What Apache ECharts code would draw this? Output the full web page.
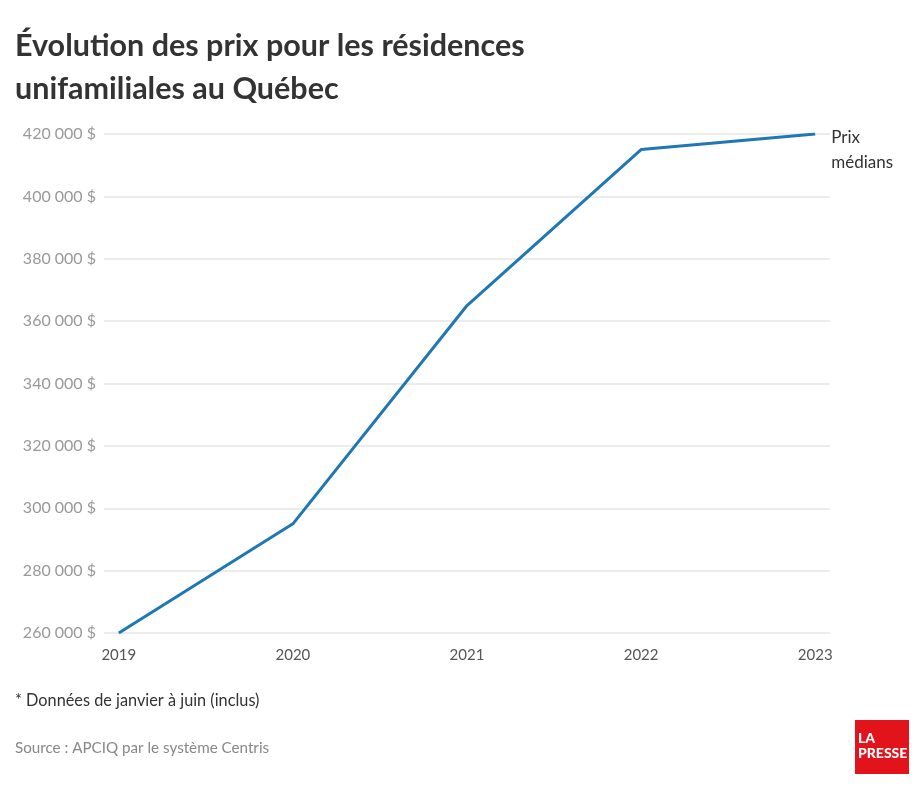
<!DOCTYPE html>
<html><head><meta charset="utf-8">
<script src="https://cdn.jsdelivr.net/npm/echarts@6/dist/echarts.min.js"></script>
<style>html,body{margin:0;padding:0;background:#fff}#c{width:924px;height:795px}</style>
</head><body><div id="c"></div>
<script>
const years = [2019, 2020, 2021, 2022, 2023];
const prices = [260000, 295000, 365000, 415000, 420000];
const seriesName = 'Prix\nmédians';
const titleText = 'Évolution des prix pour les résidences\nunifamiliales au Québec';
const noteText = '* Données de janvier à juin (inclus)';
const sourceText = 'Source : APCIQ par le système Centris';

const fmt = v => String(v).replace(/\B(?=(\d{3})+(?!\d))/g, ' ') + ' $';
const chart = echarts.init(document.getElementById('c'));
chart.setOption({
  animation: false,
  textStyle: {fontFamily: 'Lato'},
  title: {
    text: titleText, left: 10, top: 20,
    textStyle: {fontFamily: 'Lato', fontWeight: 'bold', fontSize: 30.5, color: '#333', lineHeight: 43}
  },
  grid: {left: 104, right: 94, top: 134, bottom: 162, containLabel: false},
  xAxis: {
    type: 'value', min: 2018.915, max: 2023.085,
    axisLine: {show: false}, axisTick: {show: false}, splitLine: {show: false},
    axisLabel: {customValues: years, formatter: v => String(v), color: '#555', fontSize: 15, margin: 15, fontFamily: 'Lato'}
  },
  yAxis: {
    type: 'value', min: 260000, max: 420000, interval: 20000,
    axisLine: {show: false}, axisTick: {show: false},
    splitLine: {lineStyle: {color: '#e6e6e6', width: 1.5}},
    axisLabel: {formatter: fmt, color: '#999', fontSize: 16, margin: 8, fontFamily: 'Lato'}
  },
  series: [{
    type: 'line', name: seriesName,
    data: years.map((y, i) => [y, prices[i]]),
    showSymbol: false, symbol: 'none',
    lineStyle: {color: '#1f78b4', width: 3},
    endLabel: {show: true, formatter: seriesName, color: '#333', fontSize: 17, lineHeight: 25,
      fontFamily: 'Lato', distance: 16, verticalAlign: 'top', offset: [0, -9]}
  }],
  graphic: [
    {type: 'text', left: 15, top: 693, style: {text: noteText, fill: '#333', fontSize: 16.3, fontFamily: 'Lato'}},
    {type: 'text', left: 15, top: 741, style: {text: sourceText, fill: '#888', fontSize: 15.2, fontFamily: 'Lato'}},
    {type: 'rect', shape: {x: 855, y: 720, width: 54, height: 54}, style: {fill: '#e3131b'}},
    {type: 'text', x: 858, y: 731, style: {text: 'LA\nPRESSE', fill: '#fff', fontSize: 14, fontWeight: 900, lineHeight: 15, fontFamily: 'Lato'}}
  ]
});
</script></body></html>
